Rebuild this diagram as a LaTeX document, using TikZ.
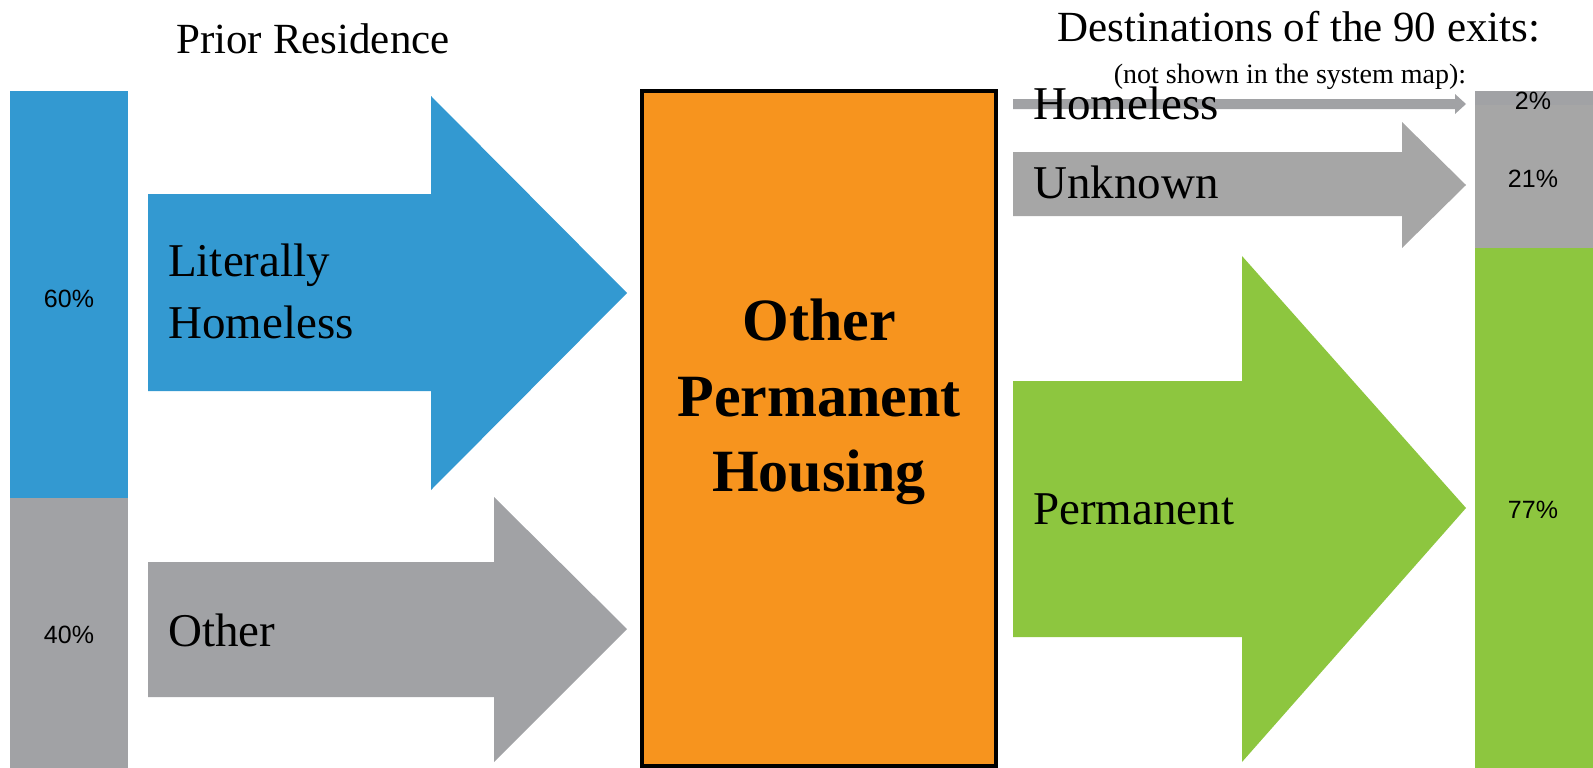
\documentclass[tikz,border=0pt]{standalone}
\usepackage{fontspec}
\usepackage{xcolor}
\setmainfont{Liberation Serif}
\newfontfamily\pctfont{Liberation Sans}
\definecolor{homelessblue}{RGB}{51, 153, 209}
\definecolor{othergrey}{RGB}{161, 162, 165}
\definecolor{unknowngrey}{RGB}{166, 166, 166}
\definecolor{housingorange}{RGB}{247, 148, 30}
\definecolor{permgreen}{RGB}{141, 198, 63}

\begin{document}
\begin{tikzpicture}[
    x=1pt, y=-1pt,
    bar/.style={draw=none},
    flow/.style={draw=none},
    housing/.style={fill=housingorange, draw=black, line width=4.5pt},
    label/.style={anchor=base west, inner sep=0pt, font=\fontsize{47}{52}\selectfont},
    title/.style={anchor=base, inner sep=0pt, font=\fontsize{43}{48}\selectfont},
    note/.style={anchor=base, inner sep=0pt, font=\fontsize{28}{33}\selectfont},
    bigbold/.style={anchor=base, inner sep=0pt, font=\fontsize{60}{66}\selectfont\bfseries},
    pct/.style={inner sep=0pt, font=\pctfont\fontsize{25}{30}\selectfont}
]
\useasboundingbox (0,0) rectangle (1593,768);

% Prior residence bar
\fill[bar, homelessblue] (10,91) rectangle (128,498);
\fill[bar, othergrey] (10,498) rectangle (128,768);

% Incoming arrows
\fill[flow, homelessblue] (148,194) -- (431,194) -- (431,96) -- (627,293) -- (431,490) -- (431,391) -- (148,391) -- cycle;
\fill[flow, othergrey] (148,562) -- (494,562) -- (494,497) -- (627,629) -- (494,762) -- (494,697) -- (148,697) -- cycle;

% Program box
\filldraw[housing] (642,91) rectangle (996,766);

% Outgoing arrows
\fill[flow, othergrey] (1013,99) -- (1455,99) -- (1455,94) -- (1466,104) -- (1455,114) -- (1455,109) -- (1013,109) -- cycle;
\fill[flow, unknowngrey] (1013,152) -- (1402,152) -- (1402,122) -- (1466,185) -- (1402,248) -- (1402,216) -- (1013,216) -- cycle;
\fill[flow, permgreen] (1013,381) -- (1242,381) -- (1242,256) -- (1466,508) -- (1242,762) -- (1242,637) -- (1013,637) -- cycle;

% Destination bar
\fill[bar, othergrey] (1475,91) rectangle (1593,105);
\fill[bar, unknowngrey] (1475,105) rectangle (1593,248);
\fill[bar, permgreen] (1475,248) rectangle (1593,768);

% Titles
\node[title] (prior) at (313,54) {Prior Residence};
\node[title] (dest) at (1299,42) {Destinations of the 90 exits:};
\node[note] (notshown) at (1290,84) {(not shown in the system map):};

% Flow labels
\node[label] (lit) at (168,276) {Literally};
\node[label] (lithome) at (168,338) {Homeless};
\node[label] (other) at (168,646) {Other};
\node[label] (homeless) at (1033,119) {Homeless};
\node[label] (unknown) at (1033,198) {Unknown};
\node[label] (perm) at (1033,524) {Permanent};

% Program name
\node[bigbold] (oph1) at (819,340) {Other};
\node[bigbold] (oph2) at (819,416) {Permanent};
\node[bigbold] (oph3) at (819,491) {Housing};

% Percentages
\node[pct] (p60) at (69,299) {60\%};
\node[pct] (p40) at (69,635) {40\%};
\node[pct] (p2) at (1533,101) {2\%};
\node[pct] (p21) at (1533,179) {21\%};
\node[pct] (p77) at (1533,510) {77\%};

\end{tikzpicture}
\end{document}
